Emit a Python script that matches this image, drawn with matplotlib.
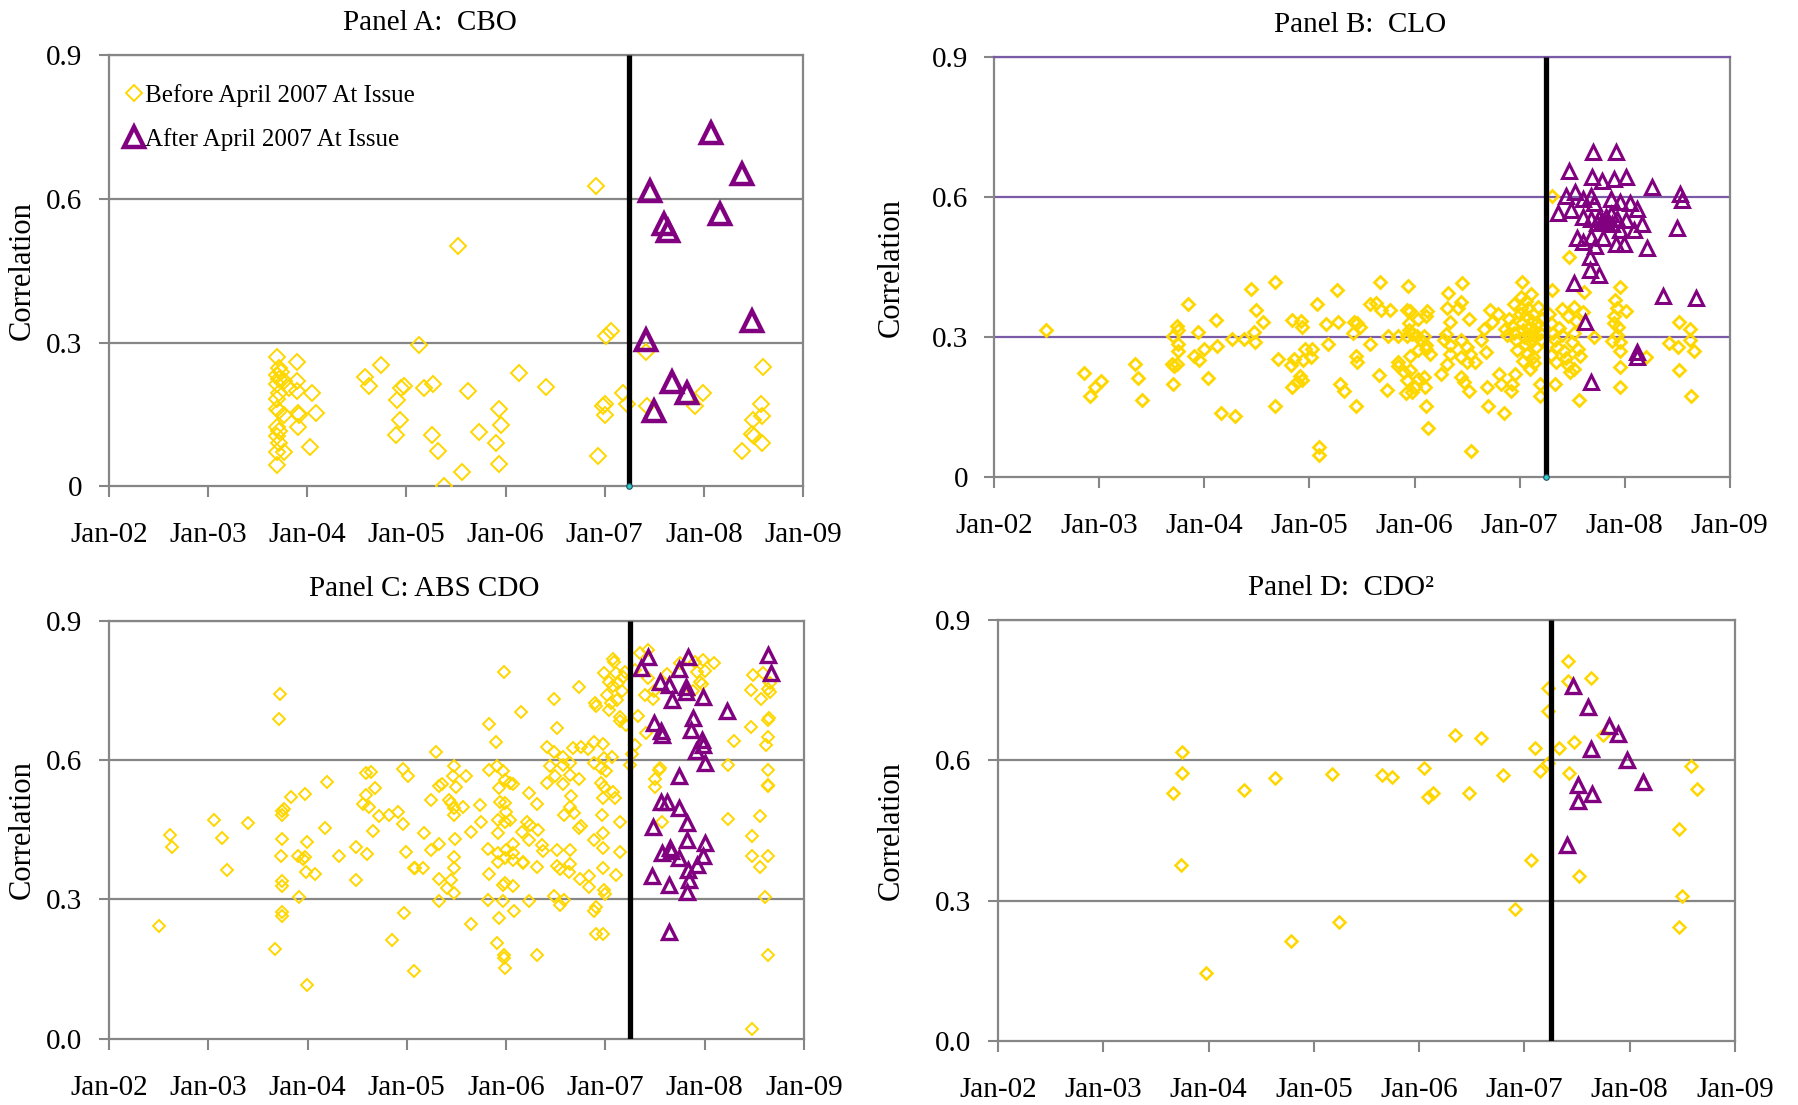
import numpy as np
import matplotlib
matplotlib.use("Agg")
import matplotlib.pyplot as plt
from matplotlib.lines import Line2D

plt.rcParams['font.family'] = ['Liberation Serif', 'DejaVu Serif']

# issue date (decimal year), correlation at issue
cbo_before = [
    (2003.69, 0.270), (2003.72, 0.246), (2003.74, 0.239), (2003.69, 0.232), (2003.72, 0.224),
    (2003.77, 0.220), (2003.69, 0.213), (2003.72, 0.194), (2003.69, 0.183), (2003.69, 0.161),
    (2003.72, 0.157), (2003.77, 0.149), (2003.69, 0.123), (2003.72, 0.116), (2003.69, 0.105),
    (2003.72, 0.090), (2003.77, 0.071), (2003.69, 0.071), (2003.69, 0.045),
    (2003.90, 0.259), (2003.90, 0.220), (2003.82, 0.205), (2003.90, 0.198), (2004.05, 0.194),
    (2003.91, 0.153), (2003.92, 0.149), (2004.09, 0.153), (2003.91, 0.123), (2004.03, 0.082),
    (2004.58, 0.228), (2004.62, 0.209), (2004.74, 0.254), (2004.91, 0.179), (2004.95, 0.205),
    (2004.98, 0.209), (2004.94, 0.138), (2004.90, 0.106), (2005.13, 0.295), (2005.18, 0.205),
    (2005.27, 0.213), (2005.26, 0.106), (2005.32, 0.073), (2005.52, 0.502), (2005.38, 0.000),
    (2005.62, 0.199), (2005.56, 0.030), (2005.73, 0.114), (2005.93, 0.161), (2005.95, 0.128),
    (2005.90, 0.090), (2005.93, 0.046), (2006.14, 0.237), (2006.41, 0.207),
    (2006.91, 0.626), (2007.01, 0.314), (2007.06, 0.325), (2006.98, 0.168), (2007.00, 0.172),
    (2007.00, 0.149), (2006.93, 0.063), (2007.18, 0.194), (2007.22, 0.172), (2007.42, 0.280),
    (2007.43, 0.168), (2007.91, 0.168), (2007.99, 0.194), (2008.38, 0.073), (2008.49, 0.108),
    (2008.51, 0.105), (2008.50, 0.138), (2008.58, 0.172), (2008.59, 0.146), (2008.59, 0.090),
    (2008.60, 0.248),
]
cbo_after = [
    (2007.46, 0.616), (2007.60, 0.547), (2007.64, 0.534), (2008.07, 0.738), (2008.38, 0.653),
    (2008.16, 0.569), (2008.49, 0.344), (2007.42, 0.306), (2007.50, 0.157), (2007.68, 0.218),
    (2007.83, 0.194),
]

clo_before = [
    (2002.49, 0.315), (2002.85, 0.224), (2002.91, 0.174), (2002.96, 0.193), (2003.02, 0.206),
    (2003.34, 0.242), (2003.37, 0.213), (2003.41, 0.166), (2003.69, 0.242), (2003.74, 0.242),
    (2003.71, 0.238), (2003.70, 0.201), (2003.70, 0.304), (2003.74, 0.325), (2003.75, 0.316),
    (2003.75, 0.286), (2003.75, 0.270), (2003.84, 0.371), (2003.90, 0.261), (2003.95, 0.252),
    (2003.94, 0.311), (2004.00, 0.276), (2004.03, 0.213), (2004.11, 0.338), (2004.12, 0.281),
    (2004.16, 0.138), (2004.29, 0.131), (2004.26, 0.296), (2004.38, 0.296), (2004.44, 0.404),
    (2004.49, 0.359), (2004.47, 0.311), (2004.48, 0.290), (2004.56, 0.333), (2004.67, 0.418),
    (2004.67, 0.152), (2004.70, 0.253), (2004.82, 0.241), (2004.83, 0.338), (2004.85, 0.254),
    (2004.92, 0.335), (2004.93, 0.322), (2004.94, 0.252), (2004.96, 0.276), (2005.02, 0.276),
    (2005.01, 0.258), (2004.83, 0.193), (2004.88, 0.205), (2004.91, 0.218), (2004.93, 0.208),
    (2005.07, 0.372), (2005.09, 0.065), (2005.09, 0.047), (2005.26, 0.401), (2005.16, 0.328),
    (2005.27, 0.333), (2005.18, 0.285), (2005.29, 0.201), (2005.33, 0.185), (2005.44, 0.152),
    (2005.41, 0.310), (2005.45, 0.330), (2005.42, 0.333), (2005.48, 0.322), (2005.44, 0.260),
    (2005.45, 0.247), (2005.58, 0.372), (2005.63, 0.373), (2005.68, 0.358), (2005.67, 0.418),
    (2005.77, 0.358), (2005.58, 0.285), (2005.74, 0.188), (2005.66, 0.219), (2005.94, 0.411),
    (2005.93, 0.359), (2005.96, 0.357), (2005.95, 0.330), (2006.03, 0.340), (2006.11, 0.345),
    (2006.12, 0.357), (2005.75, 0.302), (2005.84, 0.302), (2005.93, 0.302), (2006.02, 0.302),
    (2006.09, 0.302), (2005.84, 0.247), (2005.84, 0.238), (2005.90, 0.226), (2005.96, 0.230),
    (2005.93, 0.208), (2006.00, 0.193), (2006.03, 0.211), (2006.09, 0.215), (2005.92, 0.180),
    (2005.98, 0.183), (2006.10, 0.193), (2006.11, 0.152), (2006.13, 0.106), (2005.96, 0.260),
    (2006.03, 0.272), (2006.11, 0.276), (2006.15, 0.265), (2006.06, 0.294), (2006.11, 0.283),
    (2005.95, 0.315), (2005.98, 0.308), (2006.32, 0.395), (2006.45, 0.416), (2006.44, 0.376),
    (2006.41, 0.362), (2006.31, 0.362), (2006.34, 0.333), (2006.52, 0.340), (2006.30, 0.308),
    (2006.28, 0.294), (2006.34, 0.283), (2006.44, 0.294), (2006.50, 0.280), (2006.34, 0.265),
    (2006.44, 0.258), (2006.50, 0.247), (2006.58, 0.247), (2006.53, 0.265), (2006.25, 0.222),
    (2006.31, 0.243), (2006.44, 0.215), (2006.47, 0.204), (2006.52, 0.186), (2006.54, 0.056),
    (2006.66, 0.318), (2006.72, 0.358), (2006.79, 0.351), (2006.74, 0.333), (2006.63, 0.294),
    (2006.68, 0.268), (2006.80, 0.222), (2006.69, 0.193), (2006.82, 0.201), (2006.70, 0.152),
    (2006.85, 0.138), (2006.92, 0.186), (2006.93, 0.201), (2006.96, 0.222), (2007.02, 0.418),
    (2006.95, 0.372), (2007.01, 0.386), (2007.11, 0.393), (2006.90, 0.340), (2006.93, 0.325),
    (2006.95, 0.310), (2006.97, 0.295), (2007.00, 0.350), (2007.02, 0.330), (2007.03, 0.315),
    (2007.04, 0.300), (2007.05, 0.285), (2007.06, 0.345), (2007.08, 0.362), (2007.09, 0.320),
    (2007.10, 0.305), (2007.11, 0.290), (2007.12, 0.335), (2007.13, 0.350), (2007.14, 0.315),
    (2007.15, 0.300), (2007.16, 0.280), (2007.17, 0.330), (2007.18, 0.365), (2007.19, 0.310),
    (2007.20, 0.295), (2007.21, 0.340), (2006.98, 0.272), (2007.07, 0.265), (2007.13, 0.258),
    (2006.88, 0.305), (2006.86, 0.318), (2007.01, 0.362), (2007.06, 0.378), (2007.19, 0.200),
    (2007.19, 0.175), (2007.14, 0.245), (2007.10, 0.232), (2007.03, 0.250),
    (2007.31, 0.604), (2007.47, 0.472), (2007.31, 0.402), (2007.61, 0.397), (2007.96, 0.408),
    (2007.52, 0.366), (2007.60, 0.355), (2007.91, 0.380), (2007.93, 0.364), (2008.01, 0.357),
    (2007.90, 0.330), (2007.94, 0.323), (2007.93, 0.305), (2007.88, 0.292), (2007.96, 0.290),
    (2007.71, 0.301), (2008.52, 0.333), (2008.62, 0.318), (2008.62, 0.295), (2008.42, 0.288),
    (2008.51, 0.280), (2008.66, 0.270), (2008.20, 0.259), (2008.52, 0.230), (2008.63, 0.174),
    (2007.96, 0.237), (2007.96, 0.194), (2007.34, 0.200), (2007.57, 0.166), (2007.96, 0.270),
    (2007.90, 0.345), (2007.28, 0.350), (2007.30, 0.330), (2007.32, 0.310), (2007.34, 0.295),
    (2007.36, 0.280), (2007.38, 0.320), (2007.40, 0.305), (2007.42, 0.270), (2007.44, 0.255),
    (2007.46, 0.240), (2007.48, 0.225), (2007.50, 0.290), (2007.52, 0.310), (2007.54, 0.335),
    (2007.56, 0.275), (2007.58, 0.260), (2007.46, 0.345), (2007.30, 0.262), (2007.35, 0.248),
    (2007.52, 0.232), (2007.40, 0.360),
]
clo_after = [
    (2007.70, 0.697), (2007.92, 0.697), (2007.47, 0.656), (2007.69, 0.643), (2007.78, 0.636),
    (2007.90, 0.640), (2008.01, 0.643), (2008.26, 0.623), (2007.44, 0.604), (2007.53, 0.612),
    (2007.60, 0.597), (2007.68, 0.604), (2007.71, 0.588), (2007.87, 0.597), (2007.96, 0.590),
    (2008.05, 0.588), (2008.53, 0.607), (2008.55, 0.595), (2007.37, 0.567), (2007.49, 0.573),
    (2007.60, 0.559), (2007.68, 0.553), (2007.76, 0.556), (2007.82, 0.559), (2007.87, 0.565),
    (2007.93, 0.553), (2008.01, 0.552), (2008.12, 0.576), (2008.17, 0.542), (2008.09, 0.531),
    (2007.96, 0.531), (2007.74, 0.545), (2007.78, 0.550), (2007.83, 0.545), (2007.88, 0.542),
    (2007.80, 0.548), (2008.50, 0.535), (2007.55, 0.512), (2007.60, 0.504), (2007.68, 0.515),
    (2007.79, 0.512), (2007.72, 0.495), (2007.92, 0.501), (2007.99, 0.501), (2008.21, 0.492),
    (2007.67, 0.472), (2007.67, 0.445), (2007.76, 0.433), (2007.52, 0.417), (2008.37, 0.388),
    (2008.68, 0.385), (2007.62, 0.333), (2008.12, 0.269), (2008.12, 0.257), (2007.68, 0.204),
]

abs_before = [
    (2003.72, 0.743), (2003.71, 0.689), (2002.50, 0.242), (2002.61, 0.438), (2002.63, 0.414),
    (2003.06, 0.471), (2003.14, 0.432), (2003.19, 0.363), (2003.40, 0.465), (2003.67, 0.194),
    (2003.74, 0.491), (2003.76, 0.495), (2003.74, 0.481), (2003.83, 0.520), (2003.97, 0.528),
    (2003.74, 0.430), (2003.73, 0.393), (2003.74, 0.339), (2003.74, 0.328), (2003.74, 0.274),
    (2003.74, 0.265), (2003.91, 0.306), (2003.90, 0.393), (2003.95, 0.387), (2003.97, 0.392),
    (2003.99, 0.423), (2003.98, 0.359), (2004.08, 0.355), (2003.99, 0.115), (2004.20, 0.553),
    (2004.18, 0.453), (2004.32, 0.394), (2004.49, 0.412), (2004.60, 0.398), (2004.49, 0.342),
    (2004.59, 0.572), (2004.64, 0.574), (2004.59, 0.525), (2004.68, 0.540), (2004.56, 0.506),
    (2004.62, 0.500), (2004.72, 0.480), (2004.82, 0.483), (2004.91, 0.489), (2004.66, 0.448),
    (2004.96, 0.582), (2005.01, 0.566), (2004.96, 0.462), (2004.99, 0.403), (2005.07, 0.367),
    (2004.97, 0.270), (2004.85, 0.213), (2005.07, 0.145),
    (2005.98, 0.791), (2005.29, 0.617), (2005.83, 0.678), (2005.90, 0.639), (2006.15, 0.703),
    (2006.48, 0.732), (2006.51, 0.669), (2006.73, 0.757), (2006.41, 0.628), (2006.48, 0.617),
    (2006.57, 0.608), (2006.67, 0.626), (2006.75, 0.628), (2006.83, 0.624), (2006.89, 0.640),
    (2006.98, 0.636), (2006.89, 0.594), (2006.99, 0.605), (2007.07, 0.607), (2005.48, 0.588),
    (2005.47, 0.566), (2005.60, 0.565), (2005.50, 0.543), (2005.32, 0.545), (2005.35, 0.548),
    (2005.24, 0.515), (2005.43, 0.515), (2005.45, 0.508), (2005.48, 0.497), (2005.48, 0.483),
    (2005.57, 0.499), (2005.74, 0.504), (2005.83, 0.580), (2005.91, 0.588), (2005.97, 0.576),
    (2005.99, 0.558), (2006.04, 0.551), (2006.07, 0.549), (2005.93, 0.540), (2005.94, 0.511),
    (2005.99, 0.507), (2006.00, 0.489), (2005.92, 0.472), (2005.99, 0.468), (2006.04, 0.472),
    (2005.75, 0.466), (2005.65, 0.445), (2005.49, 0.430), (2005.17, 0.444), (2005.24, 0.407),
    (2005.32, 0.420), (2005.92, 0.443), (2006.23, 0.529), (2006.31, 0.505), (2006.21, 0.466),
    (2006.24, 0.461), (2006.16, 0.445), (2006.23, 0.429), (2006.32, 0.450), (2005.82, 0.408),
    (2005.92, 0.400), (2006.00, 0.407), (2006.07, 0.420), (2005.99, 0.389), (2006.07, 0.400),
    (2006.17, 0.380), (2005.92, 0.381), (2006.51, 0.407), (2006.64, 0.406), (2006.36, 0.417),
    (2006.37, 0.405), (2006.41, 0.551), (2006.44, 0.588), (2006.49, 0.565), (2006.57, 0.549),
    (2006.64, 0.568), (2006.73, 0.559), (2006.57, 0.590), (2006.64, 0.594), (2006.65, 0.523),
    (2006.64, 0.500), (2006.58, 0.482), (2006.68, 0.486), (2006.73, 0.454), (2006.75, 0.459),
    (2006.89, 0.429), (2006.98, 0.443), (2006.96, 0.550), (2006.99, 0.543), (2006.96, 0.583),
    (2007.01, 0.576), (2006.98, 0.518), (2007.08, 0.532), (2007.10, 0.518), (2006.97, 0.482),
    (2007.15, 0.468), (2007.15, 0.402), (2006.98, 0.411), (2006.98, 0.368), (2007.11, 0.353),
    (2006.84, 0.351), (2006.84, 0.327), (2006.99, 0.320), (2007.00, 0.312), (2006.74, 0.344),
    (2006.51, 0.373), (2006.54, 0.366), (2006.64, 0.376), (2006.63, 0.360), (2006.31, 0.371),
    (2006.17, 0.379), (2006.07, 0.385), (2005.83, 0.355), (2005.99, 0.335), (2005.97, 0.332),
    (2006.07, 0.330), (2005.32, 0.344), (2005.41, 0.324), (2005.45, 0.342), (2005.48, 0.313),
    (2005.48, 0.392), (2005.48, 0.367), (2005.08, 0.367), (2005.16, 0.367), (2005.32, 0.297),
    (2005.82, 0.299), (2005.97, 0.297), (2006.08, 0.276), (2006.23, 0.296), (2006.48, 0.308),
    (2006.54, 0.289), (2006.58, 0.298), (2006.89, 0.275), (2006.91, 0.284), (2006.91, 0.226),
    (2006.98, 0.226), (2005.65, 0.248), (2005.93, 0.259), (2005.91, 0.206), (2005.98, 0.181),
    (2005.98, 0.174), (2005.99, 0.152), (2006.31, 0.181),
    (2006.99, 0.787), (2007.04, 0.769), (2007.08, 0.759), (2007.09, 0.812), (2007.11, 0.787),
    (2007.13, 0.766), (2007.15, 0.694), (2007.18, 0.779), (2007.06, 0.723), (2007.04, 0.708),
    (2006.90, 0.723), (2006.91, 0.716), (2007.21, 0.676), (2007.15, 0.684), (2007.08, 0.818),
    (2007.02, 0.740), (2007.17, 0.750), (2007.20, 0.790), (2007.12, 0.730),
    (2008.49, 0.783), (2008.47, 0.752), (2008.57, 0.731), (2008.59, 0.787), (2008.66, 0.766),
    (2008.64, 0.753), (2008.66, 0.746), (2007.90, 0.812), (2007.98, 0.816), (2008.09, 0.809),
    (2008.00, 0.793), (2007.92, 0.791), (2007.95, 0.769), (2007.88, 0.750), (2007.97, 0.764),
    (2007.48, 0.731), (2007.40, 0.740), (2008.47, 0.671), (2008.65, 0.692), (2008.64, 0.687),
    (2008.64, 0.651), (2008.62, 0.633), (2008.30, 0.642), (2008.24, 0.589), (2008.64, 0.580),
    (2008.64, 0.547), (2008.64, 0.544), (2007.55, 0.583), (2007.54, 0.580), (2007.50, 0.559),
    (2007.50, 0.543), (2007.57, 0.468), (2008.24, 0.474), (2008.56, 0.479), (2008.48, 0.436),
    (2008.48, 0.394), (2008.56, 0.371), (2008.64, 0.393), (2008.61, 0.305), (2008.64, 0.181),
    (2008.48, 0.021), (2007.43, 0.837), (2007.35, 0.831), (2007.30, 0.794), (2007.43, 0.778),
    (2007.49, 0.749), (2007.33, 0.696), (2007.41, 0.658), (2007.30, 0.632), (2007.27, 0.613),
    (2007.25, 0.590), (2007.62, 0.786), (2007.75, 0.809),
]
abs_after = [
    (2007.43, 0.823), (2007.36, 0.798), (2007.83, 0.822), (2007.74, 0.796), (2007.55, 0.769),
    (2007.64, 0.762), (2007.81, 0.758), (2007.81, 0.746), (2007.98, 0.737), (2007.67, 0.730),
    (2008.23, 0.707), (2008.64, 0.827), (2008.67, 0.787), (2007.49, 0.680), (2007.56, 0.662),
    (2007.57, 0.655), (2007.88, 0.690), (2007.86, 0.665), (2007.97, 0.644), (2007.98, 0.633),
    (2007.91, 0.619), (2008.00, 0.593), (2007.74, 0.565), (2007.56, 0.509), (2007.62, 0.509),
    (2007.74, 0.497), (2007.48, 0.457), (2007.82, 0.464), (2007.82, 0.428), (2008.00, 0.421),
    (2007.57, 0.401), (2007.65, 0.410), (2007.66, 0.405), (2007.74, 0.389), (2007.98, 0.393),
    (2007.92, 0.375), (2007.83, 0.364), (2007.47, 0.350), (2007.64, 0.332), (2007.84, 0.342),
    (2007.82, 0.317), (2007.64, 0.229),
]

cdo2_before = [
    (2003.66, 0.530), (2003.75, 0.618), (2003.75, 0.573), (2003.74, 0.376), (2003.98, 0.145),
    (2004.34, 0.536), (2004.63, 0.562), (2004.78, 0.214), (2005.17, 0.571), (2005.24, 0.254),
    (2005.65, 0.568), (2005.74, 0.565), (2006.05, 0.584), (2006.08, 0.521), (2006.13, 0.530),
    (2006.34, 0.655), (2006.47, 0.530), (2006.59, 0.647), (2006.80, 0.568), (2006.91, 0.281),
    (2007.06, 0.387), (2007.10, 0.627), (2007.15, 0.577), (2007.22, 0.754), (2007.22, 0.705),
    (2007.22, 0.595), (2007.33, 0.627), (2007.41, 0.813), (2007.41, 0.770), (2007.42, 0.573),
    (2007.47, 0.640), (2007.52, 0.352), (2007.63, 0.775), (2007.75, 0.653), (2008.47, 0.452),
    (2008.50, 0.310), (2008.47, 0.243), (2008.58, 0.588), (2008.64, 0.538),
]
cdo2_after = [
    (2007.46, 0.759), (2007.60, 0.714), (2007.80, 0.673), (2007.89, 0.656), (2007.63, 0.623),
    (2007.97, 0.601), (2008.13, 0.554), (2007.51, 0.548), (2007.51, 0.513), (2007.64, 0.527),
    (2007.40, 0.419),
]

years = list(range(2002, 2010))
year_labels = ["Jan-%02d" % (y % 100) for y in years]
cutoff = 2007.25
yticks = [0, 0.3, 0.6, 0.9]

YELLOW = "#FFD700"
PURPLE = "#800080"
GRAY = "#868686"

fig = plt.figure(figsize=(17.98, 11.05), dpi=100)

panels = [
    # title, before, after, rect, title x, ylabel x, tick labels, grid colour, marker sizes, end dot
    ("Panel A:  CBO", cbo_before, cbo_after, [0.0606, 0.560, 0.386, 0.390], 0.463, -0.104,
     ["0", "0.3", "0.6", "0.9"], GRAY, (7.8, 1.4, 14, 3.2), True),
    ("Panel B:  CLO", clo_before, clo_after, [0.553, 0.568, 0.409, 0.380], 0.497, -0.120,
     ["0", "0.3", "0.6", "0.9"], "#7B5BA6", (6.2, 2.0, 9.5, 2.2), True),
    ("Panel C: ABS CDO", abs_before, abs_after, [0.0606, 0.060, 0.3865, 0.378], 0.453, -0.104,
     ["0.0", "0.3", "0.6", "0.9"], GRAY, (6.4, 1.4, 9.5, 2.4), False),
    ("Panel D:  CDO\u00b2", cdo2_before, cdo2_after, [0.555, 0.058, 0.410, 0.381], 0.466, -0.125,
     ["0.0", "0.3", "0.6", "0.9"], GRAY, (6.6, 1.8, 10, 2.4), False),
]

for title, before, after, rect, tx, lx, ylabels, gcol, sizes, dot in panels:
    ax = fig.add_axes(rect)
    dms, dmew, tms, tmew = sizes
    b = np.array(before)
    a = np.array(after)

    for yv in [0.3, 0.6, 0.9]:
        ax.axhline(yv, color=gcol, lw=1.6, zorder=1)

    ax.plot(b[:, 0], b[:, 1], ls="none", marker="D", ms=dms, mfc="none",
            mec=YELLOW, mew=dmew, zorder=3)
    ax.plot(a[:, 0], a[:, 1], ls="none", marker="^", ms=tms, mfc="none",
            mec=PURPLE, mew=tmew, zorder=4)

    # April 2007 cut-off
    ax.plot([cutoff, cutoff], [0, 0.9], color="black", lw=3.8, zorder=5, solid_capstyle="butt")
    if dot:
        ax.plot([cutoff], [0], ls="none", marker="o", ms=4, mfc="#33CCCC", mec="#205060",
                mew=0.8, zorder=6, clip_on=False)

    ax.set_xlim(2002, 2009)
    ax.set_ylim(0, 0.9)
    ax.set_xticks(years)
    ax.set_xticklabels(year_labels)
    ax.set_yticks(yticks)
    ax.set_yticklabels(ylabels)
    ax.tick_params(axis="x", direction="out", length=8, width=1.5, color=GRAY,
                   labelsize=21, pad=18)
    ax.tick_params(axis="y", direction="out", length=7, width=1.5, color=GRAY,
                   labelsize=21, pad=12)
    for s in ax.spines.values():
        s.set_color(GRAY)
        s.set_linewidth(1.6)
    ax.spines["top"].set_color(gcol)

    ax.set_title(title, fontsize=21, x=tx, pad=18)
    ax.set_ylabel("Correlation", fontsize=22)
    ax.yaxis.set_label_coords(lx, 0.5)

    if title.startswith("Panel A"):
        handles = [
            Line2D([], [], ls="none", marker="D", ms=7.8, mfc="none", mec=YELLOW, mew=1.4),
            Line2D([], [], ls="none", marker="^", ms=14, mfc="none", mec=PURPLE, mew=3.2),
        ]
        ax.legend(handles, ["Before April 2007 At Issue", "After April 2007 At Issue"],
                  loc="upper left", bbox_to_anchor=(0.0, 0.975), frameon=False, fontsize=18,
                  handlelength=0.6, handletextpad=0.15, labelspacing=0.85, borderaxespad=0.3)

fig.savefig("out.png", dpi=100)
